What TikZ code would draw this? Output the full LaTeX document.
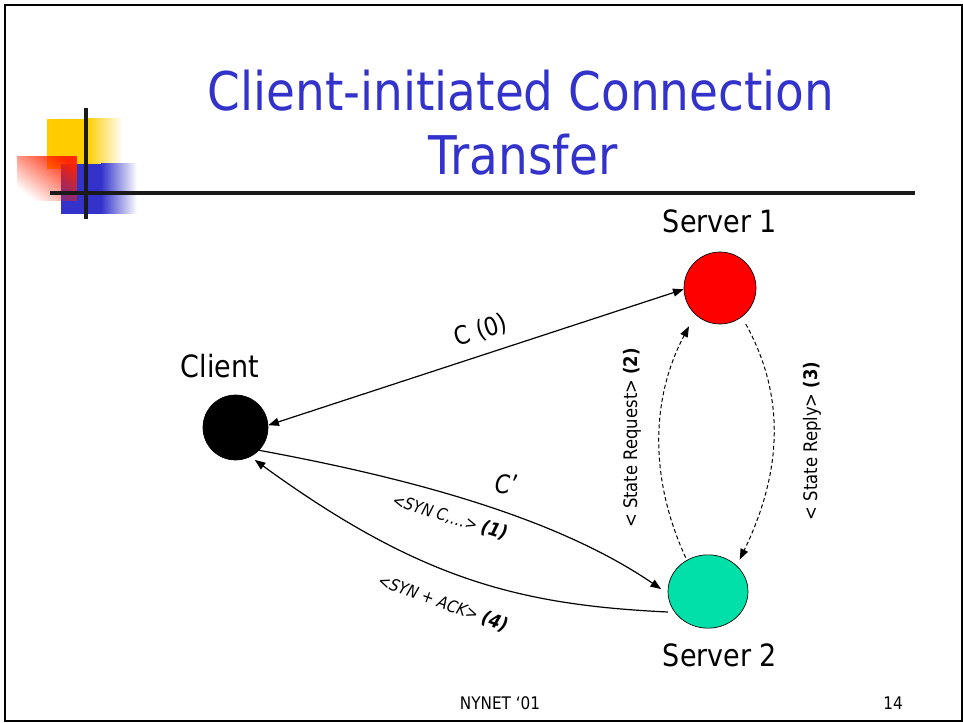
\documentclass[tikz,border=0pt]{standalone}
\usepackage{fontspec}
\setmainfont[FakeStretch=0.88]{DejaVu Sans}
\usetikzlibrary{shapes.geometric,arrows.meta,fadings}

\definecolor{titleblue}{HTML}{3333CC}
\definecolor{sqyellow}{HTML}{FFCC00}
\definecolor{sqblue}{HTML}{3333CC}
\definecolor{sqred}{HTML}{FF2200}
\definecolor{barblack}{HTML}{1A1A1A}
\definecolor{srvred}{HTML}{FF0000}
\definecolor{srvgreen}{HTML}{00E0A8}

\tikzfading[name=cornerfade, left color=transparent!100, right color=transparent!5]

\tikzset{
  host/.style={circle, draw=black, line width=0.5pt, inner sep=0pt},
  hostlabel/.style={font=\fontsize{23}{27}\selectfont, anchor=base},
  titletext/.style={font=\fontsize{40}{48}\selectfont, text=titleblue, anchor=base},
  conn/.style={line width=0.9pt},
  dconn/.style={line width=0.75pt, dash pattern=on 3pt off 2pt},
  tip/.style={-{Triangle[length=8pt,width=6pt]}},
  edgelabel/.style={font=\fontsize{19}{22}\selectfont},
  smalllabel/.style={font=\fontsize{12.5}{15}\selectfont},
  stepno/.style={font=\fontsize{14}{16}\selectfont\bfseries\itshape},
  sidelabel/.style={font=\fontsize{14}{16}\selectfont, rotate=90},
  footer/.style={font=\fontsize{13}{15}\selectfont, anchor=base},
  bar/.style={line width=3pt, draw=barblack}
}

\begin{document}
\begin{tikzpicture}[x=0.75pt,y=-0.75pt]
\useasboundingbox (0,0) rectangle (963,723);

% slide frame
\draw[line width=2pt] (5,5) rectangle (962,721);

% decorative squares in the corner
\fill[sqyellow] (47,119) rectangle (87,169);
\shade[left color=sqyellow, right color=white] (87,119) rectangle (123,169);
\fill[sqblue] (61,164) rectangle (101,214);
\shade[left color=sqblue, right color=white] (101,164) rectangle (137,214);
\fill[sqred, path fading=cornerfade, fading angle=45] (17,156) rectangle (77,201);

% title rules
\draw[bar] (86,108) -- (86,219);
\draw[bar] (50,193) -- (915,193);

% title
\node[titletext] (t1) at (521,111) {Client-initiated Connection};
\node[titletext] (t2) at (523,175) {Transfer};

% hosts
\node[host, fill=black, minimum size=48.75pt] (client) at (235.5,427.5) {};
\node[host, fill=srvred, minimum size=54pt] (s1) at (720,288) {};
\node[host, ellipse, fill=srvgreen, minimum width=60pt, minimum height=55pt] (s2) at (708,591.5) {};

\node[hostlabel] (lclient) at (220,378) {Client};
\node[hostlabel] (ls1) at (720,233) {Server 1};
\node[hostlabel] (ls2) at (720,666) {Server 2};

% connection C (0)
\draw[conn, {Triangle[length=8pt,width=6pt]}-{Triangle[length=8pt,width=6pt]}] (client.4) -- (s1.182);
\node[edgelabel, rotate=18] (lc0) at (481,331) {C (0)};

% SYN to server 2
\draw[conn, tip, shorten >=6pt] (client.-44) .. controls (420,480) and (560,520) .. (s2.183);
\node[edgelabel, font=\fontsize{19}{22}\selectfont\itshape] (lcp) at (506,484) {C’};
\node[smalllabel, rotate=-17] (lsyn) at (450,517) {\textit{<SYN C,…>} \textnormal{\fontsize{14}{16}\selectfont\bfseries\itshape(1)}};

% SYN + ACK back to the client
\draw[conn, tip, shorten <=5pt, shorten >=4pt] (s2.212) .. controls (520,605) and (420,580) .. (client.-63);
\node[smalllabel, rotate=-20] (lack) at (443,603) {\textit{<SYN + ACK>} \textnormal{\fontsize{14}{16}\selectfont\bfseries\itshape(4)}};

% state transfer between servers
\draw[dconn, tip, shorten <=2pt, shorten >=10pt] (s2.124) .. controls (650,480) and (650,400) .. (s1.227);
\node[sidelabel] (lreq) at (632,438) {< State Request> \textbf{(2)}};
\draw[dconn, tip, shorten <=6pt, shorten >=5pt] (s1.-53) .. controls (785,395) and (783,470) .. (s2.42);
\node[sidelabel] (lrep) at (812,441) {< State Reply> \textbf{(3)}};

% footer
\node[footer] (fnet) at (500,709) {NYNET ‘01};
\node[footer] (fnum) at (893,709) {14};
\end{tikzpicture}
\end{document}
